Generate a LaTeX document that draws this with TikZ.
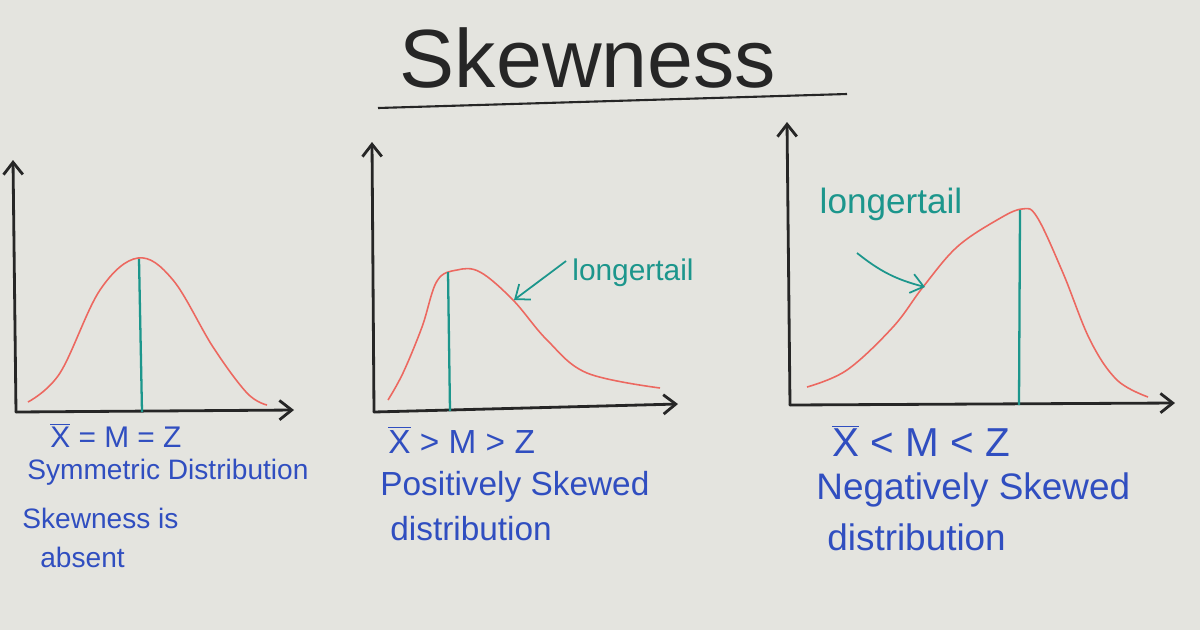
\documentclass[tikz,border=0pt]{standalone}
\usepackage{fontspec}
\setmainfont{Liberation Sans}
\usetikzlibrary{arrows.meta}
\definecolor{board}{RGB}{228,228,223}
\definecolor{ink}{RGB}{38,38,38}
\definecolor{inkblue}{RGB}{48,78,192}
\definecolor{tealink}{RGB}{28,150,140}
\definecolor{curvered}{RGB}{236,104,96}
\newcommand{\xbarsym}{$\overline{\mbox{X}}$}
\begin{document}
\begin{tikzpicture}[
		x=0.02cm, y=-0.02cm,
		>={Straight Barb[length=7pt,width=11pt]},
		axis/.style={->, draw=ink, line width=1.6pt, line cap=round},
		curve/.style={draw=curvered, line width=0.9pt},
		meanline/.style={draw=tealink, line width=1.3pt},
		ptr/.style={->, draw=tealink, line width=1pt},
		txt/.style={text=inkblue, anchor=west, inner sep=0pt},
		tail/.style={text=tealink, inner sep=0pt},
	]
		% Tafel
		\fill[board] (0,0) rectangle (1200,630);
		\useasboundingbox (0,0) rectangle (1200,630);

		% Titel
		\node[text=ink, font=\fontsize{47}{52}\selectfont] (title) at (588,58) {Skewness};
		\coordinate (ulA) at (378,108);
		\coordinate (ulB) at (847,94);
		\draw[ink, line width=1.2pt] (ulA) -- (ulB);

		% Symmetrisch
		\coordinate (o1) at (16,412);
		\coordinate (y1) at (13,160);
		\coordinate (x1) at (294,410);
		\draw[axis] (o1) -- (y1);
		\draw[axis] (o1) -- (x1);
		\draw[curve] plot[smooth, tension=0.6] coordinates
			{(28,402) (60,373) (100,290) (138,258) (173,280) (213,347) (247,393) (267,405)};
		\draw[meanline] (139,259) -- (142,412);
		\node[txt, font=\fontsize{17}{20}\selectfont] (rel1) at (50,435) {\xbarsym{} = M = Z};
		\node[txt, font=\fontsize{16}{19}\selectfont] (name1) at (27,472) {Symmetric Distribution};
		\node[txt, font=\fontsize{16}{19}\selectfont] (note1a) at (22,518) {Skewness is};
		\node[txt, font=\fontsize{16}{19}\selectfont] (note1b) at (40,557) {absent};

		% Positiv schief
		\coordinate (o2) at (374,412);
		\coordinate (y2) at (372,142);
		\coordinate (x2) at (678,404);
		\draw[axis] (o2) -- (y2);
		\draw[axis] (o2) -- (x2);
		\draw[curve] plot[smooth, tension=0.6] coordinates
			{(388,400) (403,373) (422,327) (437,281) (457,270) (480,272) (513,300) (547,340) (587,373) (660,388)};
		\draw[meanline] (448,272) -- (450,411);
		\node[tail, font=\fontsize{17}{20}\selectfont] (tail2) at (633,273) {longertail};
		\coordinate (t2) at (514,300);
		\draw[ptr] (tail2.west) ++(-6,-12) coordinate (s2) (s2) -- (t2);
		\node[txt, font=\fontsize{19}{22}\selectfont] (rel2) at (388,440) {\xbarsym{} > M > Z};
		\node[txt, font=\fontsize{19}{22}\selectfont] (name2) at (380,487) {Positively Skewed};
		\node[txt, font=\fontsize{19}{22}\selectfont] (note2) at (390,529) {distribution};

		% Negativ schief
		\coordinate (o3) at (790,405);
		\coordinate (y3) at (787,122);
		\coordinate (x3) at (1175,403);
		\draw[axis] (o3) -- (y3);
		\draw[axis] (o3) -- (x3);
		\draw[curve] plot[smooth, tension=0.6] coordinates
			{(807,387) (847,370) (893,327) (923,287) (957,247) (997,220) (1022,209) (1037,217) (1063,273) (1090,340) (1117,380) (1148,397)};
		\draw[meanline] (1020,210) -- (1019,405);
		\node[tail, font=\fontsize{20}{24}\selectfont] (tail3) at (891,204) {longertail};
		\coordinate (t3) at (925,287);
		\coordinate (s3) at (857,253);
		\draw[ptr] (s3) to[bend right=12] (t3);
		\node[txt, font=\fontsize{23}{26}\selectfont] (rel3) at (832,441) {\xbarsym{} < M < Z};
		\node[txt, font=\fontsize{21}{25}\selectfont] (name3) at (816,490) {Negatively Skewed};
		\node[txt, font=\fontsize{21}{25}\selectfont] (note3) at (827,537) {distribution};
	\end{tikzpicture}
\end{document}
